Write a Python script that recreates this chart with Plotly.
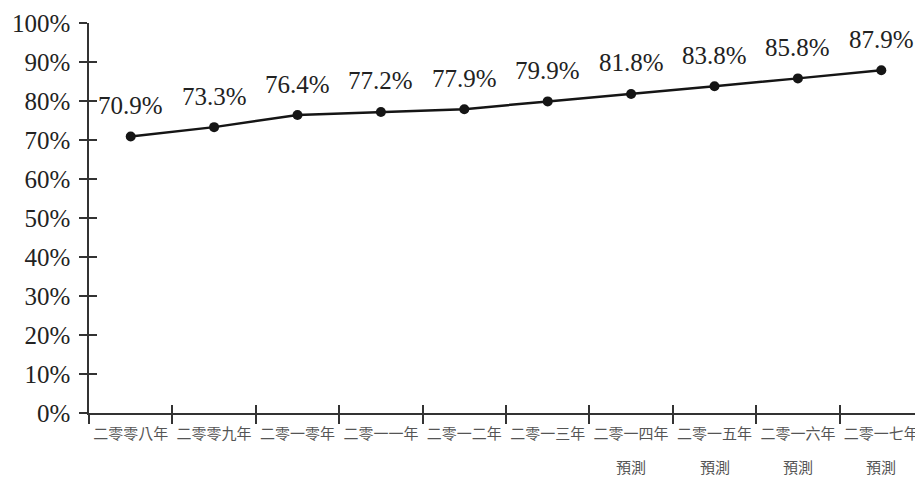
import plotly.graph_objects as go

categories = ["二零零八年", "二零零九年", "二零一零年", "二零一一年", "二零一二年",
              "二零一三年", "二零一四年", "二零一五年", "二零一六年", "二零一七年"]
forecast = [False, False, False, False, False, False, True, True, True, True]
forecast_text = "預測"
values = [70.9, 73.3, 76.4, 77.2, 77.9, 79.9, 81.8, 83.8, 85.8, 87.9]
value_labels = ["70.9%", "73.3%", "76.4%", "77.2%", "77.9%", "79.9%", "81.8%", "83.8%", "85.8%", "87.9%"]
y_ticks = [0, 10, 20, 30, 40, 50, 60, 70, 80, 90, 100]
y_tick_labels = [f"{v}%" for v in y_ticks]

serif = "Liberation Serif, Times New Roman, serif"
cjk = "Noto Sans CJK TC, Noto Sans CJK SC, sans-serif"

fig = go.Figure()
fig.add_trace(go.Scatter(
    x=categories, y=values, mode="lines+markers",
    line=dict(color="#151515", width=2.5),
    marker=dict(color="#151515", size=10),
    hoverinfo="skip", showlegend=False,
))
# invisible trace to drive overlay axes (for ticks that cross the axis line)
fig.add_trace(go.Scatter(
    x=categories, y=values, mode="markers", marker=dict(opacity=0),
    xaxis="x2", yaxis="y2", hoverinfo="skip", showlegend=False,
))

for c, v, t in zip(categories, values, value_labels):
    fig.add_annotation(x=c, y=v, text=t, showarrow=False, yshift=31,
                       font=dict(family=serif, size=25, color="#222"))

for c, f in zip(categories, forecast):
    if f:
        fig.add_annotation(x=c, y=0, yref="y", text=forecast_text, showarrow=False,
                           yshift=-53, font=dict(family=cjk, size=15, color="#555"))

axis_col = "#333"
fig.update_layout(
    width=915, height=472,
    margin=dict(l=81, r=0, t=15, b=67, autoexpand=False),
    paper_bgcolor="white", plot_bgcolor="white",
    xaxis=dict(
        type="category", range=[-0.5, 9.5], tickson="boundaries",
        ticks="outside", ticklen=9, tickwidth=1.5, tickcolor=axis_col,
        showline=True, linecolor=axis_col, linewidth=1.5, tickangle=0,
        automargin=False,
        showgrid=False, zeroline=False, ticklabelstandoff=6,
        tickfont=dict(family=cjk, size=15, color="#555"),
    ),
    yaxis=dict(
        range=[0, 100], tickvals=y_ticks, ticktext=y_tick_labels,
        ticks="outside", ticklen=8, tickwidth=1.5, tickcolor=axis_col,
        showline=True, linecolor=axis_col, linewidth=1.5, automargin=False,
        showgrid=False, zeroline=False, ticklabelstandoff=4,
        tickfont=dict(family=serif, size=25, color="#222"),
    ),
    xaxis2=dict(
        type="category", range=[-0.5, 9.5], tickson="boundaries",
        overlaying="x", matches="x", ticks="inside", ticklen=8, tickwidth=1.5,
        tickcolor=axis_col, showticklabels=False, showgrid=False, zeroline=False,
        showline=False, automargin=False,
    ),
    yaxis2=dict(
        range=[0, 100], tickvals=y_ticks, overlaying="y", ticks="inside",
        ticklen=8, tickwidth=1.5, tickcolor=axis_col, showticklabels=False,
        showgrid=False, zeroline=False, showline=False, automargin=False,
    ),
)

fig.write_html("out.html")
